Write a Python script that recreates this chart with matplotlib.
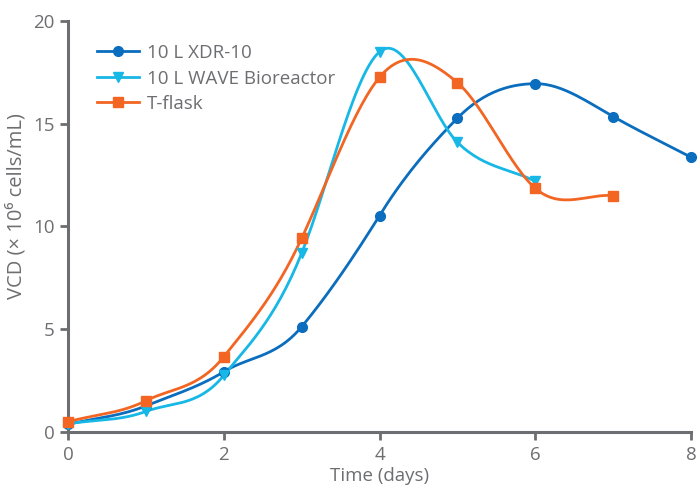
import numpy as np
import matplotlib
matplotlib.use("Agg")
import matplotlib.pyplot as plt

plt.rcParams['font.family'] = ['Open Sans', 'DejaVu Sans']

# data
days_xdr = [0, 1, 2, 3, 4, 5, 6, 7, 8]
vcd_xdr = [0.37, 1.27, 2.93, 5.12, 10.53, 15.27, 16.95, 15.35, 13.37]

days_wave = [0, 1, 2, 3, 4, 5, 6]
vcd_wave = [0.4, 1.0, 2.75, 8.7, 18.5, 14.1, 12.2]

days_tflask = [0, 1, 2, 3, 4, 5, 6, 7]
vcd_tflask = [0.5, 1.52, 3.66, 9.42, 17.26, 17.0, 11.86, 11.5]

labels = ["10 L XDR-10", "10 L WAVE Bioreactor", "T-flask"]
colors = ["#0a6dbd", "#17b7e6", "#f26522"]
markers = ["o", "v", "s"]

GRAY = "#6d6e71"


def smooth(x, y, n=30, k=1.2):
    # catmull-rom style smoothing (like excel's smoothed line), k = tension
    x = np.asarray(x, float)
    y = np.asarray(y, float)
    m = np.zeros_like(y)
    m[1:-1] = k * (y[2:] - y[:-2]) / (x[2:] - x[:-2])
    m[0] = y[1] - y[0]
    m[-1] = y[-1] - y[-2]
    xs, ys = [], []
    for i in range(len(x) - 1):
        h = x[i + 1] - x[i]
        t = np.linspace(0, 1, n, endpoint=(i == len(x) - 2))
        h00 = 2*t**3 - 3*t**2 + 1
        h10 = t**3 - 2*t**2 + t
        h01 = -2*t**3 + 3*t**2
        h11 = t**3 - t**2
        xs.append(x[i] + t*h)
        ys.append(h00*y[i] + h10*h*m[i] + h01*y[i+1] + h11*h*m[i+1])
    return np.concatenate(xs), np.concatenate(ys)


fig = plt.figure(figsize=(6.99, 4.88), dpi=100)
ax = fig.add_axes([0.0973, 0.1148, 0.8913, 0.8422])

series = [(days_xdr, vcd_xdr), (days_wave, vcd_wave), (days_tflask, vcd_tflask)]
for (x, y), lab, c, mk in zip(series, labels, colors, markers):
    sx, sy = smooth(x, y)
    ax.plot(sx, sy, color=c, lw=2, clip_on=False, zorder=3)
    ax.plot(x, y, linestyle="none", marker=mk, color=c, markersize=7, clip_on=False, zorder=4)
    ax.plot([], [], color=c, lw=2, marker=mk, markersize=7, label=lab)

ax.set_xlim(0, 8)
ax.set_ylim(0, 20)
ax.set_xticks([0, 2, 4, 6, 8])
ax.set_yticks([0, 5, 10, 15, 20])

for s in ["top", "right"]:
    ax.spines[s].set_visible(False)
for s in ["left", "bottom"]:
    ax.spines[s].set_color(GRAY)
    ax.spines[s].set_linewidth(2.2)

ax.tick_params(colors=GRAY, labelcolor=GRAY, labelsize=13.5, width=2, length=6)
ax.tick_params(axis="x", pad=4)
ax.set_xlabel("Time (days)", color=GRAY, fontsize=13.5, labelpad=2)
ax.set_ylabel("VCD (× 10⁶ cells/mL)", color=GRAY, fontsize=14.5)
ax.yaxis.set_label_coords(-0.066, 0.55)

leg = ax.legend(loc="upper left", bbox_to_anchor=(0.02, 0.985), frameon=False,
                fontsize=13.5, handlelength=2.2, labelspacing=0.4, handletextpad=0.45)
for t in leg.get_texts():
    t.set_color(GRAY)

fig.savefig("out.png", dpi=100)
